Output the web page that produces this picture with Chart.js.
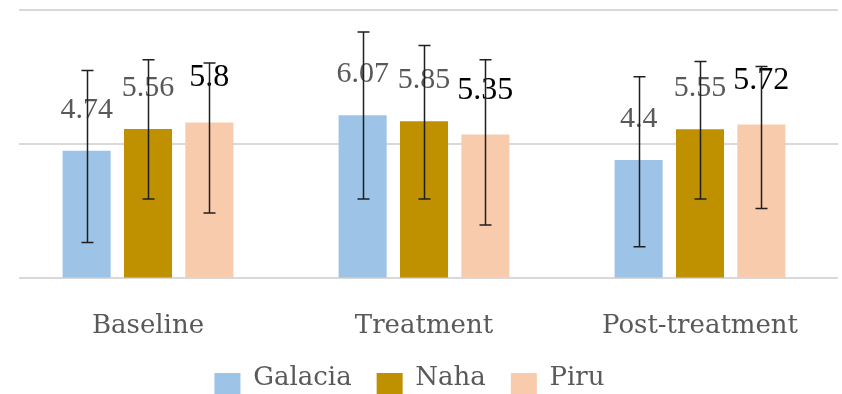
<!DOCTYPE html>
<html>
<head>
<meta charset="utf-8">
<title>Galacia / Naha / Piru</title>
<script src="https://cdn.jsdelivr.net/npm/chart.js@4.4.0/dist/chart.umd.min.js"></script>
<style>
    html, body { margin: 0; padding: 0; background: #ffffff; }
    #wrap { width: 842px; height: 394px; position: relative; }
</style>
</head>
<body>
<div id="wrap"><canvas id="groupChart"></canvas></div>
<script>
const categories = ["Baseline", "Treatment", "Post-treatment"];
const seriesNames = ["Galacia", "Naha", "Piru"];

const galacia = [4.74, 6.07, 4.4];
const naha = [5.56, 5.85, 5.55];
const piru = [5.8, 5.35, 5.72];

// error bar ends
const galaciaLow = [1.32, 2.94, 1.16];
const galaciaHigh = [7.74, 9.18, 7.51];
const nahaLow = [2.94, 2.94, 2.94];
const nahaHigh = [8.14, 8.67, 8.08];
const piruLow = [2.42, 1.97, 2.59];
const piruHigh = [8.02, 8.14, 7.89];

const yTicks = [0, 5, 10];

const colors = ["#9DC3E6", "#BF9000", "#F8CBAD"];
const textGray = "#595959";

const errLow = [galaciaLow, nahaLow, piruLow];
const errHigh = [galaciaHigh, nahaHigh, piruHigh];

// horizontal grid lines (they start a bit right of the plot edge)
const gridLines = {
    id: "gridLines",
    beforeDatasetsDraw(chart) {
        const ctx = chart.ctx;
        const y = chart.scales.y;
        ctx.save();
        ctx.strokeStyle = "#D9D9D9";
        ctx.lineWidth = 2;
        yTicks.forEach(v => {
            const py = Math.round(y.getPixelForValue(v));
            ctx.beginPath();
            ctx.moveTo(19, py);
            ctx.lineTo(chart.chartArea.right, py);
            ctx.stroke();
        });
        ctx.restore();
    }
};

// value labels + error bars
const barExtras = {
    id: "barExtras",
    afterDatasetsDraw(chart) {
        const ctx = chart.ctx;
        const y = chart.scales.y;
        ctx.save();
        ctx.textAlign = "center";
        ctx.textBaseline = "alphabetic";
        chart.data.datasets.forEach((ds, i) => {
            const meta = chart.getDatasetMeta(i);
            meta.data.forEach((bar, j) => {
                if (i === 2) {
                    ctx.font = "32px 'Liberation Serif'";
                    ctx.fillStyle = "#000000";
                    ctx.fillText(String(ds.data[j]), bar.x, bar.y - 36);
                } else {
                    ctx.font = "30px 'Liberation Serif'";
                    ctx.fillStyle = textGray;
                    ctx.fillText(String(ds.data[j]), bar.x, bar.y - 33);
                }
            });
        });

        ctx.strokeStyle = "#1f1f1f";
        ctx.lineWidth = 1.5;
        chart.data.datasets.forEach((ds, i) => {
            const meta = chart.getDatasetMeta(i);
            meta.data.forEach((bar, j) => {
                const x = Math.round(bar.x) + 0.5;
                const top = y.getPixelForValue(errHigh[i][j]);
                const bottom = y.getPixelForValue(errLow[i][j]);
                ctx.beginPath();
                ctx.moveTo(x, top);
                ctx.lineTo(x, bottom);
                ctx.moveTo(x - 6, top);
                ctx.lineTo(x + 6, top);
                ctx.moveTo(x - 6, bottom);
                ctx.lineTo(x + 6, bottom);
                ctx.stroke();
            });
        });
        ctx.restore();
    }
};

// legend drawn by hand so the boxes sit like in the original
const bottomLegend = {
    id: "bottomLegend",
    afterDraw(chart) {
        const ctx = chart.ctx;
        ctx.save();
        ctx.font = "26px 'DejaVu Serif'";
        ctx.textBaseline = "alphabetic";
        ctx.textAlign = "left";
        const boxW = 26, boxH = 21, gap = 12.7, itemGap = 25;
        const widths = seriesNames.map(n => ctx.measureText(n).width);
        let total = 0;
        widths.forEach((w, i) => { total += boxW + gap + w + (i < widths.length - 1 ? itemGap : 0); });
        let x = 409.5 - total / 2;
        chart.data.datasets.forEach((ds, i) => {
            ctx.fillStyle = ds.backgroundColor;
            ctx.fillRect(x, 373, boxW, boxH);
            ctx.fillStyle = textGray;
            ctx.fillText(ds.label, x + boxW + gap, 385);
            x += boxW + gap + widths[i] + itemGap;
        });
        ctx.restore();
    }
};

document.addEventListener("DOMContentLoaded", function () {
    const ctx = document.getElementById("groupChart").getContext("2d");
    const seriesValues = [galacia, naha, piru];

    new Chart(ctx, {
        type: "bar",
        data: {
            labels: categories,
            datasets: seriesNames.map((name, i) => ({
                label: name,
                data: seriesValues[i],
                backgroundColor: colors[i],
                borderWidth: 0,
                categoryPercentage: 0.667,
                barPercentage: 0.783
            }))
        },
        options: {
            responsive: true,
            maintainAspectRatio: false,
            animation: false,
            layout: {
                padding: { left: 10, right: 4, top: 10, bottom: 19 }
            },
            plugins: {
                legend: { display: false },
                tooltip: { enabled: false }
            },
            scales: {
                x: {
                    grid: { display: false, drawTicks: false },
                    border: { display: false },
                    ticks: {
                        color: textGray,
                        padding: 33,
                        font: { family: "'DejaVu Serif'", size: 26 }
                    }
                },
                y: {
                    display: false,
                    min: yTicks[0],
                    max: yTicks[yTicks.length - 1],
                    ticks: { stepSize: 5 }
                }
            }
        },
        plugins: [gridLines, barExtras, bottomLegend]
    });
});
</script>
</body>
</html>
